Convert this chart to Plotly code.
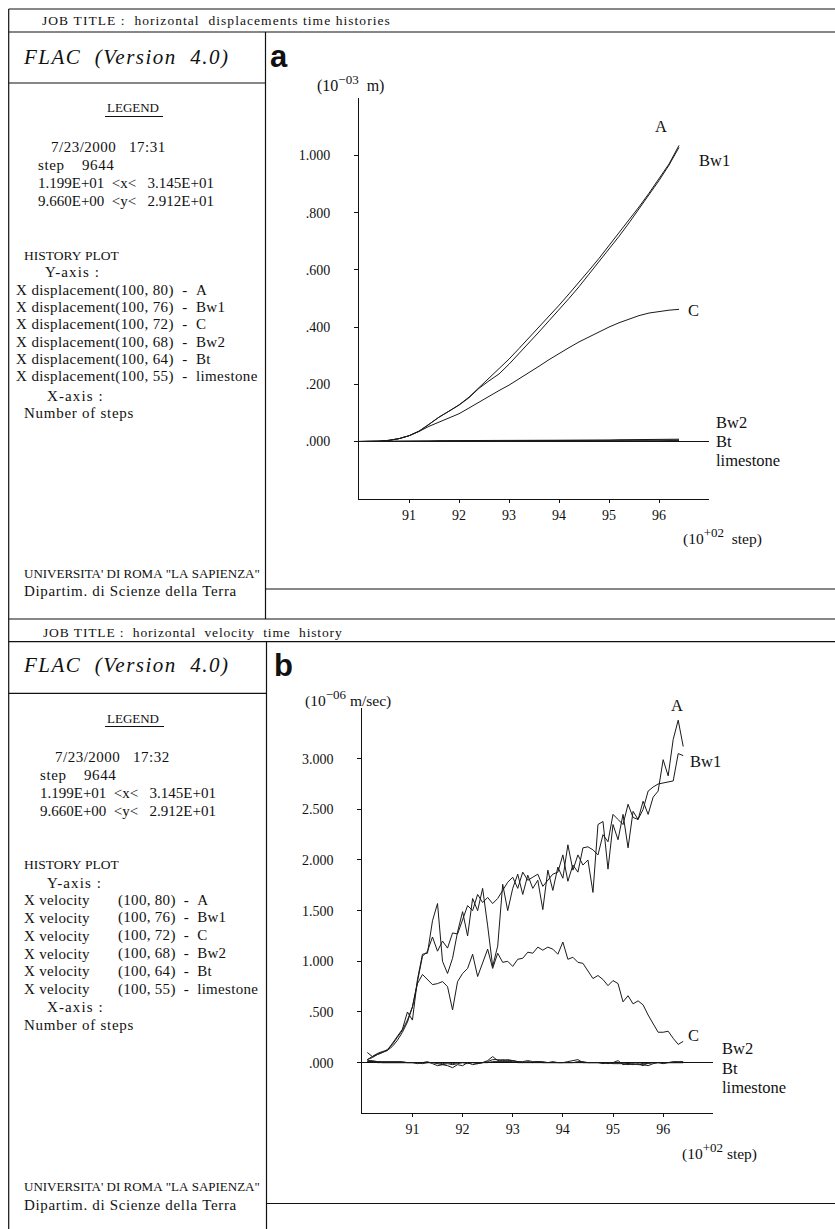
import re
import plotly.graph_objects as go

W, H = 835, 1229

# ---------------- panel a : horizontal displacement histories (10^-3 m) ----------------
disp_steps = [9000, 9020, 9040, 9060, 9080, 9100, 9120, 9140, 9160, 9180, 9200,
              9220, 9240, 9260, 9280, 9300, 9320, 9340, 9360, 9380, 9400, 9420,
              9440, 9460, 9480, 9500, 9520, 9540, 9560, 9580, 9600, 9620, 9640]
disp_A = [0.000, 0.000, 0.001, 0.004, 0.010, 0.020, 0.036, 0.060, 0.085, 0.106, 0.128,
          0.155, 0.188, 0.220, 0.254, 0.288, 0.325, 0.362, 0.400, 0.438, 0.476, 0.516,
          0.556, 0.598, 0.640, 0.684, 0.728, 0.773, 0.820, 0.868, 0.918, 0.970, 1.035]
disp_Bw1 = [0.000, 0.000, 0.001, 0.004, 0.010, 0.020, 0.036, 0.060, 0.085, 0.106, 0.127,
            0.153, 0.186, 0.212, 0.236, 0.270, 0.307, 0.345, 0.383, 0.422, 0.460, 0.500,
            0.541, 0.584, 0.627, 0.672, 0.717, 0.764, 0.812, 0.861, 0.912, 0.966, 1.028]
disp_C = [0.000, 0.000, 0.001, 0.004, 0.010, 0.020, 0.035, 0.053, 0.068, 0.082, 0.097,
          0.117, 0.138, 0.158, 0.178, 0.197, 0.218, 0.240, 0.263, 0.286, 0.308, 0.328,
          0.348, 0.366, 0.384, 0.400, 0.415, 0.428, 0.440, 0.449, 0.455, 0.459, 0.462]
disp_Bw2 = [0.000, 0.000, 0.000, 0.001, 0.001, 0.002, 0.002, 0.002, 0.003, 0.003, 0.003,
            0.003, 0.003, 0.003, 0.003, 0.003, 0.004, 0.004, 0.004, 0.004, 0.004, 0.004,
            0.005, 0.005, 0.005, 0.005, 0.006, 0.006, 0.006, 0.006, 0.007, 0.007, 0.008]
disp_Bt = [0.000, 0.000, 0.000, 0.000, 0.001, 0.001, 0.001, 0.001, 0.002, 0.002, 0.002,
           0.002, 0.002, 0.002, 0.002, 0.002, 0.003, 0.003, 0.003, 0.003, 0.003, 0.003,
           0.003, 0.003, 0.004, 0.004, 0.004, 0.004, 0.004, 0.004, 0.005, 0.005, 0.005]
disp_lime = [0.000, 0.000, 0.000, 0.000, 0.000, 0.000, 0.001, 0.001, 0.001, 0.001, 0.001,
             0.001, 0.001, 0.001, 0.001, 0.001, 0.001, 0.001, 0.001, 0.002, 0.002, 0.002,
             0.002, 0.002, 0.002, 0.002, 0.002, 0.002, 0.002, 0.002, 0.002, 0.003, 0.003]

# ---------------- panel b : horizontal velocity histories (10^-6 m/sec) ----------------
vel_steps = [9010, 9020, 9030, 9040, 9050, 9060, 9070, 9080, 9090, 9100,
             9110, 9120, 9130, 9140, 9150, 9160, 9170, 9180, 9190, 9200,
             9210, 9220, 9230, 9240, 9250, 9260, 9270, 9280, 9290, 9300,
             9310, 9320, 9330, 9340, 9350, 9360, 9370, 9380, 9390, 9400,
             9410, 9420, 9430, 9440, 9450, 9460, 9470, 9480, 9490, 9500,
             9510, 9520, 9530, 9540, 9550, 9560, 9570, 9580, 9590, 9600,
             9610, 9620, 9630, 9640]
vel_A = [0.10, 0.06, 0.09, 0.11, 0.12, 0.19, 0.27, 0.33, 0.50, 0.42,
         0.82, 1.07, 1.08, 1.40, 1.57, 1.00, 0.88, 1.03, 1.29, 1.49,
         1.25, 1.62, 1.50, 1.72, 1.35, 0.95, 1.15, 1.76, 1.50, 1.72,
         1.86, 1.66, 1.85, 1.72, 1.80, 1.51, 1.90, 1.70, 1.93, 1.82,
         2.15, 1.90, 2.05, 1.95, 2.00, 1.68, 2.35, 2.38, 1.91, 2.35,
         2.20, 2.45, 2.12, 2.48, 2.40, 2.58, 2.45, 2.62, 2.68, 2.99,
         2.83, 3.19, 3.38, 3.12]
vel_Bw1 = [0.03, 0.06, 0.08, 0.10, 0.13, 0.18, 0.25, 0.32, 0.42, 0.55,
           0.80, 1.05, 1.10, 1.24, 1.10, 1.20, 1.13, 1.28, 1.27, 1.40,
           1.55, 1.50, 1.66, 1.58, 1.63, 1.57, 1.62, 1.70, 1.78, 1.83,
           1.72, 1.88, 1.80, 1.83, 1.86, 1.74, 1.80, 1.86, 1.88, 2.05,
           1.79, 1.95, 1.88, 2.12, 2.13, 2.10, 2.05, 2.25, 2.18, 2.45,
           2.40, 2.35, 2.55, 2.42, 2.40, 2.50, 2.68, 2.72, 2.75, 2.76,
           2.77, 2.78, 3.05, 3.03]
vel_C = [0.03, 0.05, 0.08, 0.10, 0.12, 0.16, 0.22, 0.30, 0.40, 0.55,
         0.78, 0.87, 0.82, 0.77, 0.78, 0.80, 0.75, 0.52, 0.80, 0.88,
         0.93, 1.07, 0.85, 0.98, 1.12, 0.93, 1.08, 0.99, 1.00, 0.95,
         1.02, 1.03, 1.09, 1.08, 1.14, 1.11, 1.14, 1.12, 1.07, 1.19,
         1.02, 1.04, 0.99, 0.98, 0.90, 0.83, 0.86, 0.82, 0.76, 0.81,
         0.78, 0.60, 0.66, 0.58, 0.61, 0.57, 0.47, 0.39, 0.30, 0.30,
         0.31, 0.24, 0.18, 0.21]
vel_Bw2 = [0.02, 0.02, 0.01, 0.01, 0.01, 0.01, 0.01, 0.01, 0.00, 0.00,
           -0.01, 0.00, 0.01, -0.01, -0.03, -0.02, -0.03, -0.05, -0.02, -0.03,
           0.00, -0.02, -0.01, 0.00, 0.02, 0.06, 0.02, 0.03, 0.02, 0.02,
           0.01, 0.01, 0.02, 0.01, 0.01, 0.01, 0.00, 0.01, 0.00, 0.00,
           0.01, 0.02, 0.03, 0.00, 0.00, 0.00, 0.00, 0.00, -0.01, 0.00,
           0.02, -0.02, -0.01, -0.02, -0.01, -0.03, 0.00, 0.00, 0.00, -0.01,
           0.00, 0.01, 0.01, 0.01]
vel_Bt = [0.01, 0.01, 0.01, 0.00, 0.00, 0.00, 0.00, 0.00, 0.00, 0.00,
          0.00, -0.01, 0.00, 0.00, -0.01, -0.02, -0.01, -0.02, -0.01, 0.00,
          -0.01, 0.00, -0.01, 0.00, 0.01, 0.03, 0.03, 0.02, 0.03, 0.02,
          0.01, 0.00, 0.01, 0.00, 0.01, 0.00, 0.00, 0.00, 0.00, 0.00,
          0.00, 0.00, 0.01, 0.01, 0.00, 0.00, 0.00, -0.01, 0.00, -0.01,
          -0.01, -0.01, -0.02, -0.01, -0.02, -0.02, -0.03, -0.01, 0.00, 0.00,
          0.00, 0.00, 0.00, 0.00]
vel_lime = [0.01, 0.01, 0.00, 0.00, 0.00, 0.00, 0.00, 0.00, 0.00, 0.00,
            0.00, 0.00, 0.00, 0.00, 0.00, -0.01, 0.00, -0.01, 0.00, 0.00,
            0.00, 0.00, 0.00, 0.00, 0.00, 0.01, 0.01, 0.01, 0.01, 0.01,
            0.00, 0.00, 0.00, 0.00, 0.00, 0.00, 0.00, 0.00, 0.00, 0.00,
            0.00, 0.00, 0.00, 0.00, 0.00, 0.00, 0.00, 0.00, 0.00, 0.00,
            0.00, 0.00, -0.01, 0.00, 0.00, -0.01, -0.01, 0.00, 0.00, 0.00,
            0.00, 0.00, 0.00, 0.00]

# ---------------- tick labels ----------------
step_tickvals = [9100, 9200, 9300, 9400, 9500, 9600]
step_ticktext = ["91", "92", "93", "94", "95", "96"]
disp_tickvals = [0.0, 0.2, 0.4, 0.6, 0.8, 1.0]
disp_ticktext = [".000", ".200", ".400", ".600", ".800", "1.000"]
vel_tickvals = [0.0, 0.5, 1.0, 1.5, 2.0, 2.5, 3.0]
vel_ticktext = [".000", ".500", "1.000", "1.500", "2.000", "2.500", "3.000"]

# ---------------- legend block texts ----------------
disp_history_lines = [
    "X displacement(100, 80)  -  A",
    "X displacement(100, 76)  -  Bw1",
    "X displacement(100, 72)  -  C",
    "X displacement(100, 68)  -  Bw2",
    "X displacement(100, 64)  -  Bt",
    "X displacement(100, 55)  -  limestone",
]
vel_history_refs = [
    "(100, 80)  -  A",
    "(100, 76)  -  Bw1",
    "(100, 72)  -  C",
    "(100, 68)  -  Bw2",
    "(100, 64)  -  Bt",
    "(100, 55)  -  limestone",
]

SERIF = "Liberation Serif"
SANS = "Liberation Sans"
INK = "#111111"


def px(x):
    return x / W


def py(y):
    return 1 - y / H


def nb(s):
    # keep runs of spaces in the visible text, leave markup tags untouched
    parts = re.split(r"(<[^>]*>)", s)
    return "".join(p if p.startswith("<") else p.replace(" ", "\u00a0") for p in parts)


def exp10(power):
    # "10" followed by a raised exponent, kept close to full size
    return '(10<sup><span style="font-size:13px">%s</span></sup>' % power


annotations = []
shapes = []


def text(s, x, y, size=15, anchor="left", family=SERIF, ls=None):
    body = nb(s)
    if ls:
        body = '<span style="letter-spacing:%.2fpx">%s</span>' % (ls, body)
    annotations.append(dict(
        text=body, x=px(x), y=py(y), xref="paper", yref="paper",
        xanchor=anchor, yanchor="middle", showarrow=False,
        font=dict(family=family, size=size, color=INK)))


def hline(y, x0, x1, w=1.2):
    shapes.append(dict(type="line", xref="paper", yref="paper",
                       x0=px(x0), x1=px(x1), y0=py(y), y1=py(y),
                       line=dict(color=INK, width=w)))


def vline(x, y0, y1, w=1.2):
    shapes.append(dict(type="line", xref="paper", yref="paper",
                       x0=px(x), x1=px(x), y0=py(y0), y1=py(y1),
                       line=dict(color=INK, width=w)))


fig = go.Figure()

line_style = dict(color="#1a1a1a", width=1)
for ys in (disp_A, disp_Bw1, disp_C, disp_Bw2, disp_Bt, disp_lime):
    fig.add_trace(go.Scatter(x=disp_steps, y=ys, mode="lines", line=line_style,
                             xaxis="x", yaxis="y", showlegend=False, hoverinfo="skip"))
for ys in (vel_A, vel_Bw1, vel_C, vel_Bw2, vel_Bt, vel_lime):
    fig.add_trace(go.Scatter(x=vel_steps, y=ys, mode="lines", line=line_style,
                             xaxis="x2", yaxis="y2", showlegend=False, hoverinfo="skip"))

tickfont = dict(family=SERIF, size=14, color=INK)
xcommon = dict(range=[9000, 9700], tickvals=step_tickvals, ticktext=step_ticktext,
               showline=True, linecolor=INK, linewidth=1, ticks="outside", ticklen=3,
               tickcolor=INK, showgrid=False, zeroline=False, tickfont=tickfont,
               ticklabelstandoff=0, fixedrange=True)
ycommon = dict(showline=True, linecolor=INK, linewidth=1, ticks="outside", ticklen=4,
               tickcolor=INK, showgrid=False, zeroline=True, zerolinecolor=INK,
               zerolinewidth=1, tickfont=tickfont, ticklabelstandoff=21, fixedrange=True)

fig.update_layout(
    width=W, height=H, margin=dict(l=0, r=0, t=0, b=0),
    paper_bgcolor="white", plot_bgcolor="white", showlegend=False,
    xaxis=dict(domain=[px(359), px(709)], anchor="y", **xcommon),
    yaxis=dict(domain=[py(498.7), py(98.2)], anchor="x", range=[-0.2, 1.2],
               tickvals=disp_tickvals, ticktext=disp_ticktext, **ycommon),
    xaxis2=dict(domain=[px(362.3), px(713.3)], anchor="y2", **xcommon),
    yaxis2=dict(domain=[py(1113.3), py(708)], anchor="x2", range=[-0.5, 3.5],
                tickvals=vel_tickvals, ticktext=vel_ticktext, **ycommon),
)

# ---------------- frames ----------------
L = 8.7
hline(9, L, W)
vline(L, 9, H)
# panel a
hline(32, L, W)
vline(265.5, 32, 619)
hline(83, L, 265.5)
hline(589, 265.5, W)
hline(619, L, W)
hline(116.5, 105, 163, w=1)
# panel b
hline(641.7, L, W)
vline(266.5, 641.7, H)
hline(693.3, L, 266.5)
hline(1203.5, 266.5, W)
hline(726.5, 105, 164, w=1)


def flac(y):
    annotations.append(dict(
        text='<i><span style="letter-spacing:1.5px">%s</span></i>' % nb("FLAC  (Version  4.0)"),
        x=px(21), y=py(y), xref="paper", yref="paper",
        xanchor="left", yanchor="middle", showarrow=False,
        font=dict(family=SERIF, size=21, color=INK)))


# ---------------- panel a texts ----------------
text("JOB TITLE :  horizontal  displacements time histories", 40, 20, size=13.5, ls=1.05)
flac(57)
text("LEGEND", 105, 108, size=13)
text("7/23/2000   17:31", 49, 146.7, ls=0.5)
text("step    9644", 36, 165, ls=0.6)
text("1.199E+01  <x<   3.145E+01", 36, 183)
text("9.660E+00  <y<   2.912E+01", 36, 200.7)
text("HISTORY PLOT", 22, 255, size=13.5)
text("Y-axis :", 43, 272, ls=1.1)
for i, s in enumerate(disp_history_lines):
    text(s, 14, 290 + i * 17.35, ls=0.4)
text("X-axis :", 45, 396, ls=1.1)
text("Number of steps", 22, 413.3, ls=0.73)
text('UNIVERSITA\' DI ROMA "LA SAPIENZA"', 22, 573.3, size=13)
text("Dipartim. di Scienze della Terra", 22, 590.7, ls=0.66)

text("<b>a</b>", 279, 56, size=31, anchor="center", family=SANS)
text(exp10("−03") + "  m)", 315, 84, size=16)
text(exp10("+02") + "  step)", 681, 536, size=15.5)
text("A", 661, 126, size=16.5, anchor="center")
text("Bw1", 697, 160, size=16.5)
text("C", 686, 311, size=16.5)
text("Bw2", 714, 423, size=16.5)
text("Bt", 714, 441.7, size=16.5)
text("limestone", 714, 460.7, size=16.5)

# ---------------- panel b texts ----------------
text("JOB TITLE :  horizontal  velocity  time  history", 41, 632.7, size=13.5, ls=0.85)
flac(665)
text("LEGEND", 105, 718.3, size=13)
text("7/23/2000   17:32", 53, 756.7, ls=0.5)
text("step    9644", 37.6, 775, ls=0.6)
text("1.199E+01  <x<   3.145E+01", 37.6, 792.7)
text("9.660E+00  <y<   2.912E+01", 37.6, 810.7)
text("HISTORY PLOT", 22, 865, size=13.5)
text("Y-axis :", 45, 882.7, ls=1.1)
for i, s in enumerate(vel_history_refs):
    yy = 900 + i * 17.85
    text("X velocity", 22, yy, ls=0.3)
    text(s, 116, yy, ls=0.3)
text("X-axis :", 45, 1007.3, ls=1.1)
text("Number of steps", 22, 1025, ls=0.73)
text('UNIVERSITA\' DI ROMA "LA SAPIENZA"', 22, 1186.7, size=13)
text("Dipartim. di Scienze della Terra", 22, 1205, ls=0.66)

text("<b>b</b>", 283, 665, size=31, anchor="center", family=SANS)
text(exp10("−06") + " m/sec)", 302.7, 698, size=15.5)
text(exp10("+02") + " step)", 680, 1151, size=15.5)
text("A", 676.7, 705.7, size=16.5, anchor="center")
text("Bw1", 688, 761.7, size=16.5)
text("C", 686, 1035, size=16.5)
text("Bw2", 720, 1048, size=16.5)
text("Bt", 720, 1068, size=16.5)
text("limestone", 720, 1087.7, size=16.5)

fig.update_layout(annotations=annotations, shapes=shapes)
fig.write_html("out.html")
